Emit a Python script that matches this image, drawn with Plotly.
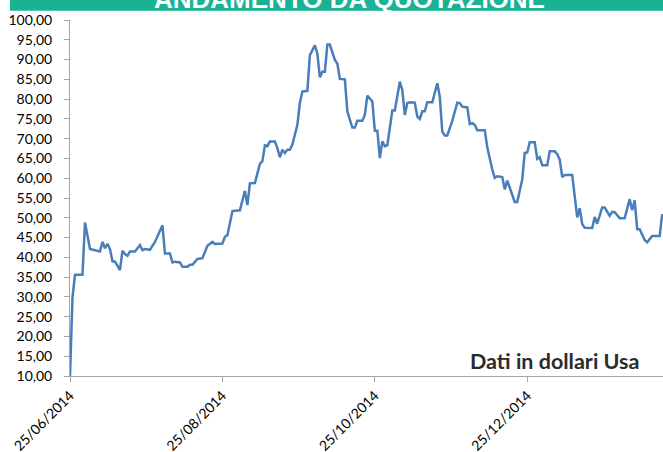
import plotly.graph_objects as go

# ---- data ----
dates = [
    "2014-06-25", "2014-06-26", "2014-06-27", "2014-06-30", "2014-07-01", "2014-07-03",
    "2014-07-07", "2014-07-08", "2014-07-09", "2014-07-10", "2014-07-11", "2014-07-12",
    "2014-07-13", "2014-07-15", "2014-07-16", "2014-07-17", "2014-07-18", "2014-07-19",
    "2014-07-21", "2014-07-23", "2014-07-24", "2014-07-25", "2014-07-27", "2014-07-29",
    "2014-08-01", "2014-08-02", "2014-08-04", "2014-08-05", "2014-08-06", "2014-08-08",
    "2014-08-09", "2014-08-11", "2014-08-12", "2014-08-13", "2014-08-15", "2014-08-17",
    "2014-08-19", "2014-08-21", "2014-08-22", "2014-08-25", "2014-08-26", "2014-08-27",
    "2014-08-29", "2014-09-01", "2014-09-03", "2014-09-04", "2014-09-05", "2014-09-07",
    "2014-09-09", "2014-09-10", "2014-09-11", "2014-09-12", "2014-09-13", "2014-09-15",
    "2014-09-16", "2014-09-17", "2014-09-18", "2014-09-19", "2014-09-20", "2014-09-21",
    "2014-09-22", "2014-09-24", "2014-09-25", "2014-09-26", "2014-09-28", "2014-09-29",
    "2014-10-01", "2014-10-02", "2014-10-03", "2014-10-04", "2014-10-05", "2014-10-06",
    "2014-10-07", "2014-10-09", "2014-10-10", "2014-10-11", "2014-10-13", "2014-10-14",
    "2014-10-15", "2014-10-16", "2014-10-17", "2014-10-18", "2014-10-20", "2014-10-21",
    "2014-10-22", "2014-10-23", "2014-10-24", "2014-10-25", "2014-10-26", "2014-10-27",
    "2014-10-28", "2014-10-29", "2014-10-30", "2014-11-01", "2014-11-02", "2014-11-04",
    "2014-11-05", "2014-11-06", "2014-11-07", "2014-11-08", "2014-11-10", "2014-11-11",
    "2014-11-12", "2014-11-13", "2014-11-14", "2014-11-15", "2014-11-17", "2014-11-19",
    "2014-11-20", "2014-11-21", "2014-11-22", "2014-11-23", "2014-11-25", "2014-11-27",
    "2014-11-28", "2014-11-29", "2014-12-01", "2014-12-02", "2014-12-03", "2014-12-04",
    "2014-12-05", "2014-12-08", "2014-12-09", "2014-12-11", "2014-12-12", "2014-12-13",
    "2014-12-15", "2014-12-16", "2014-12-17", "2014-12-18", "2014-12-20", "2014-12-21",
    "2014-12-23", "2014-12-24", "2014-12-25", "2014-12-26", "2014-12-28", "2014-12-29",
    "2014-12-30", "2014-12-31", "2015-01-02", "2015-01-03", "2015-01-05", "2015-01-06",
    "2015-01-07", "2015-01-08", "2015-01-09", "2015-01-12", "2015-01-13", "2015-01-14",
    "2015-01-15", "2015-01-16", "2015-01-17", "2015-01-20", "2015-01-21", "2015-01-22",
    "2015-01-24", "2015-01-25", "2015-01-27", "2015-01-28", "2015-01-29", "2015-01-31",
    "2015-02-02", "2015-02-04", "2015-02-05", "2015-02-06", "2015-02-07", "2015-02-08",
    "2015-02-10", "2015-02-11", "2015-02-13", "2015-02-16", "2015-02-17",
]
prices = [
    10.0, 29.9, 35.6, 35.6, 48.8, 42.1,
    41.5, 43.9, 42.3, 43.4, 42.1, 39.0,
    38.9, 36.8, 41.7, 40.8, 40.4, 41.5,
    41.5, 43.1, 41.8, 42.1, 41.9, 43.9,
    48.1, 41.0, 41.0, 38.7, 38.9, 38.7,
    37.6, 37.6, 38.1, 38.1, 39.6, 39.8,
    42.9, 43.9, 43.4, 43.5, 45.2, 45.6,
    51.7, 51.9, 56.8, 53.2, 58.7, 58.8,
    63.6, 64.3, 68.3, 68.1, 69.3, 69.3,
    67.6, 65.3, 67.2, 66.4, 67.2, 67.2,
    68.5, 73.5, 79.0, 81.9, 82.1, 91.1,
    93.6, 91.5, 85.5, 86.9, 86.9, 93.8,
    93.8, 89.9, 89.0, 85.1, 85.0, 76.9,
    74.8, 72.8, 72.8, 74.5, 74.5, 76.0,
    80.9, 80.2, 79.4, 72.0, 72.0, 65.1,
    69.3, 68.1, 68.3, 77.1, 77.1, 84.4,
    82.3, 76.0, 79.0, 79.2, 79.1, 75.6,
    75.0, 76.9, 76.9, 79.2, 79.2, 84.0,
    80.6, 71.8, 70.8, 70.8, 74.5, 79.1,
    79.0, 78.1, 77.9, 73.7, 73.9, 73.5,
    72.1, 72.1, 67.8, 62.2, 60.1, 60.5,
    60.3, 57.2, 59.4, 57.6, 54.0, 54.0,
    59.7, 66.4, 66.5, 69.1, 69.1, 64.9,
    65.3, 63.3, 63.3, 66.8, 66.8, 66.1,
    64.7, 60.3, 60.8, 60.8, 55.9, 50.1,
    52.4, 48.4, 47.5, 47.4, 50.2, 48.5,
    52.6, 52.6, 50.5, 51.5, 51.4, 49.9,
    49.9, 54.7, 51.9, 54.4, 47.1, 47.1,
    44.4, 43.8, 45.4, 45.4, 50.9,
]
tick_dates = ["2014-06-25", "2014-08-25", "2014-10-25", "2014-12-25"]
tick_labels = ["25/06/2014", "25/08/2014", "25/10/2014", "25/12/2014"]
title_text = "ANDAMENTO DA QUOTAZIONE"
note_text = "Dati in dollari Usa"

W, H = 663, 452
M_L, M_R, M_T, M_B = 70, 0, 20, 76
PLOT_H = H - M_T - M_B


def py(p):
    """pixel row -> paper y"""
    return (H - M_B - p) / PLOT_H


def px(p):
    """pixel column -> paper x"""
    return (p - M_L) / (W - M_L - M_R)


fig = go.Figure()
fig.add_trace(go.Scatter(
    x=dates, y=prices, mode="lines",
    line=dict(color="#4A7EBB", width=2.5),
    hoverinfo="skip", showlegend=False,
))

axis_font = dict(family="Lato, Liberation Sans, Arial, sans-serif", size=14, color="#000000")

fig.update_layout(
    width=W, height=H,
    margin=dict(l=M_L, r=M_R, t=M_T, b=M_B, pad=0, autoexpand=False),
    paper_bgcolor="white", plot_bgcolor="white",
    separators=",.",
    showlegend=False,
    xaxis=dict(
        type="date", automargin=False,
        range=["2014-06-25", "2015-02-17 08:00"],
        tickmode="array", tickvals=tick_dates, ticktext=tick_labels,
        tickangle=-45, tickfont=axis_font,
        showgrid=False, zeroline=False,
        showline=True, linecolor="#A6A6A6", linewidth=1,
        ticks="outside", ticklen=5, tickcolor="#A6A6A6",
    ),
    yaxis=dict(
        automargin=False,
        range=[10, 100], dtick=5, tick0=10, tickformat=".2f",
        tickfont=axis_font,
        showgrid=False, zeroline=False,
        showline=True, linecolor="#A6A6A6", linewidth=1,
        ticks="outside", ticklen=5, tickcolor="#A6A6A6",
        ticklabelstandoff=9,
    ),
)

# teal header band (cut off at the top of the image)
fig.add_shape(type="rect", xref="paper", yref="paper",
              x0=px(10), x1=1.0, y0=py(10.7), y1=py(-10),
              fillcolor="#19B293", line=dict(width=0), layer="above")
fig.add_annotation(xref="paper", yref="paper", x=px(349), y=py(-1.5),
                   xanchor="center", yanchor="middle", showarrow=False,
                   text="<b>%s</b>" % title_text,
                   font=dict(family="Liberation Sans, Arial, sans-serif", size=26, color="white"))

fig.add_annotation(xref="paper", yref="paper", x=px(641), y=py(360.5),
                   xanchor="right", yanchor="middle", showarrow=False,
                   text="<b>%s</b>" % note_text,
                   font=dict(family="Lato, Liberation Sans, Arial, sans-serif", size=21.5, color="#2b2b2b"))

fig.write_html("out.html", config={"displayModeBar": False, "staticPlot": True},
               post_script="document.body.style.margin='0px';")
